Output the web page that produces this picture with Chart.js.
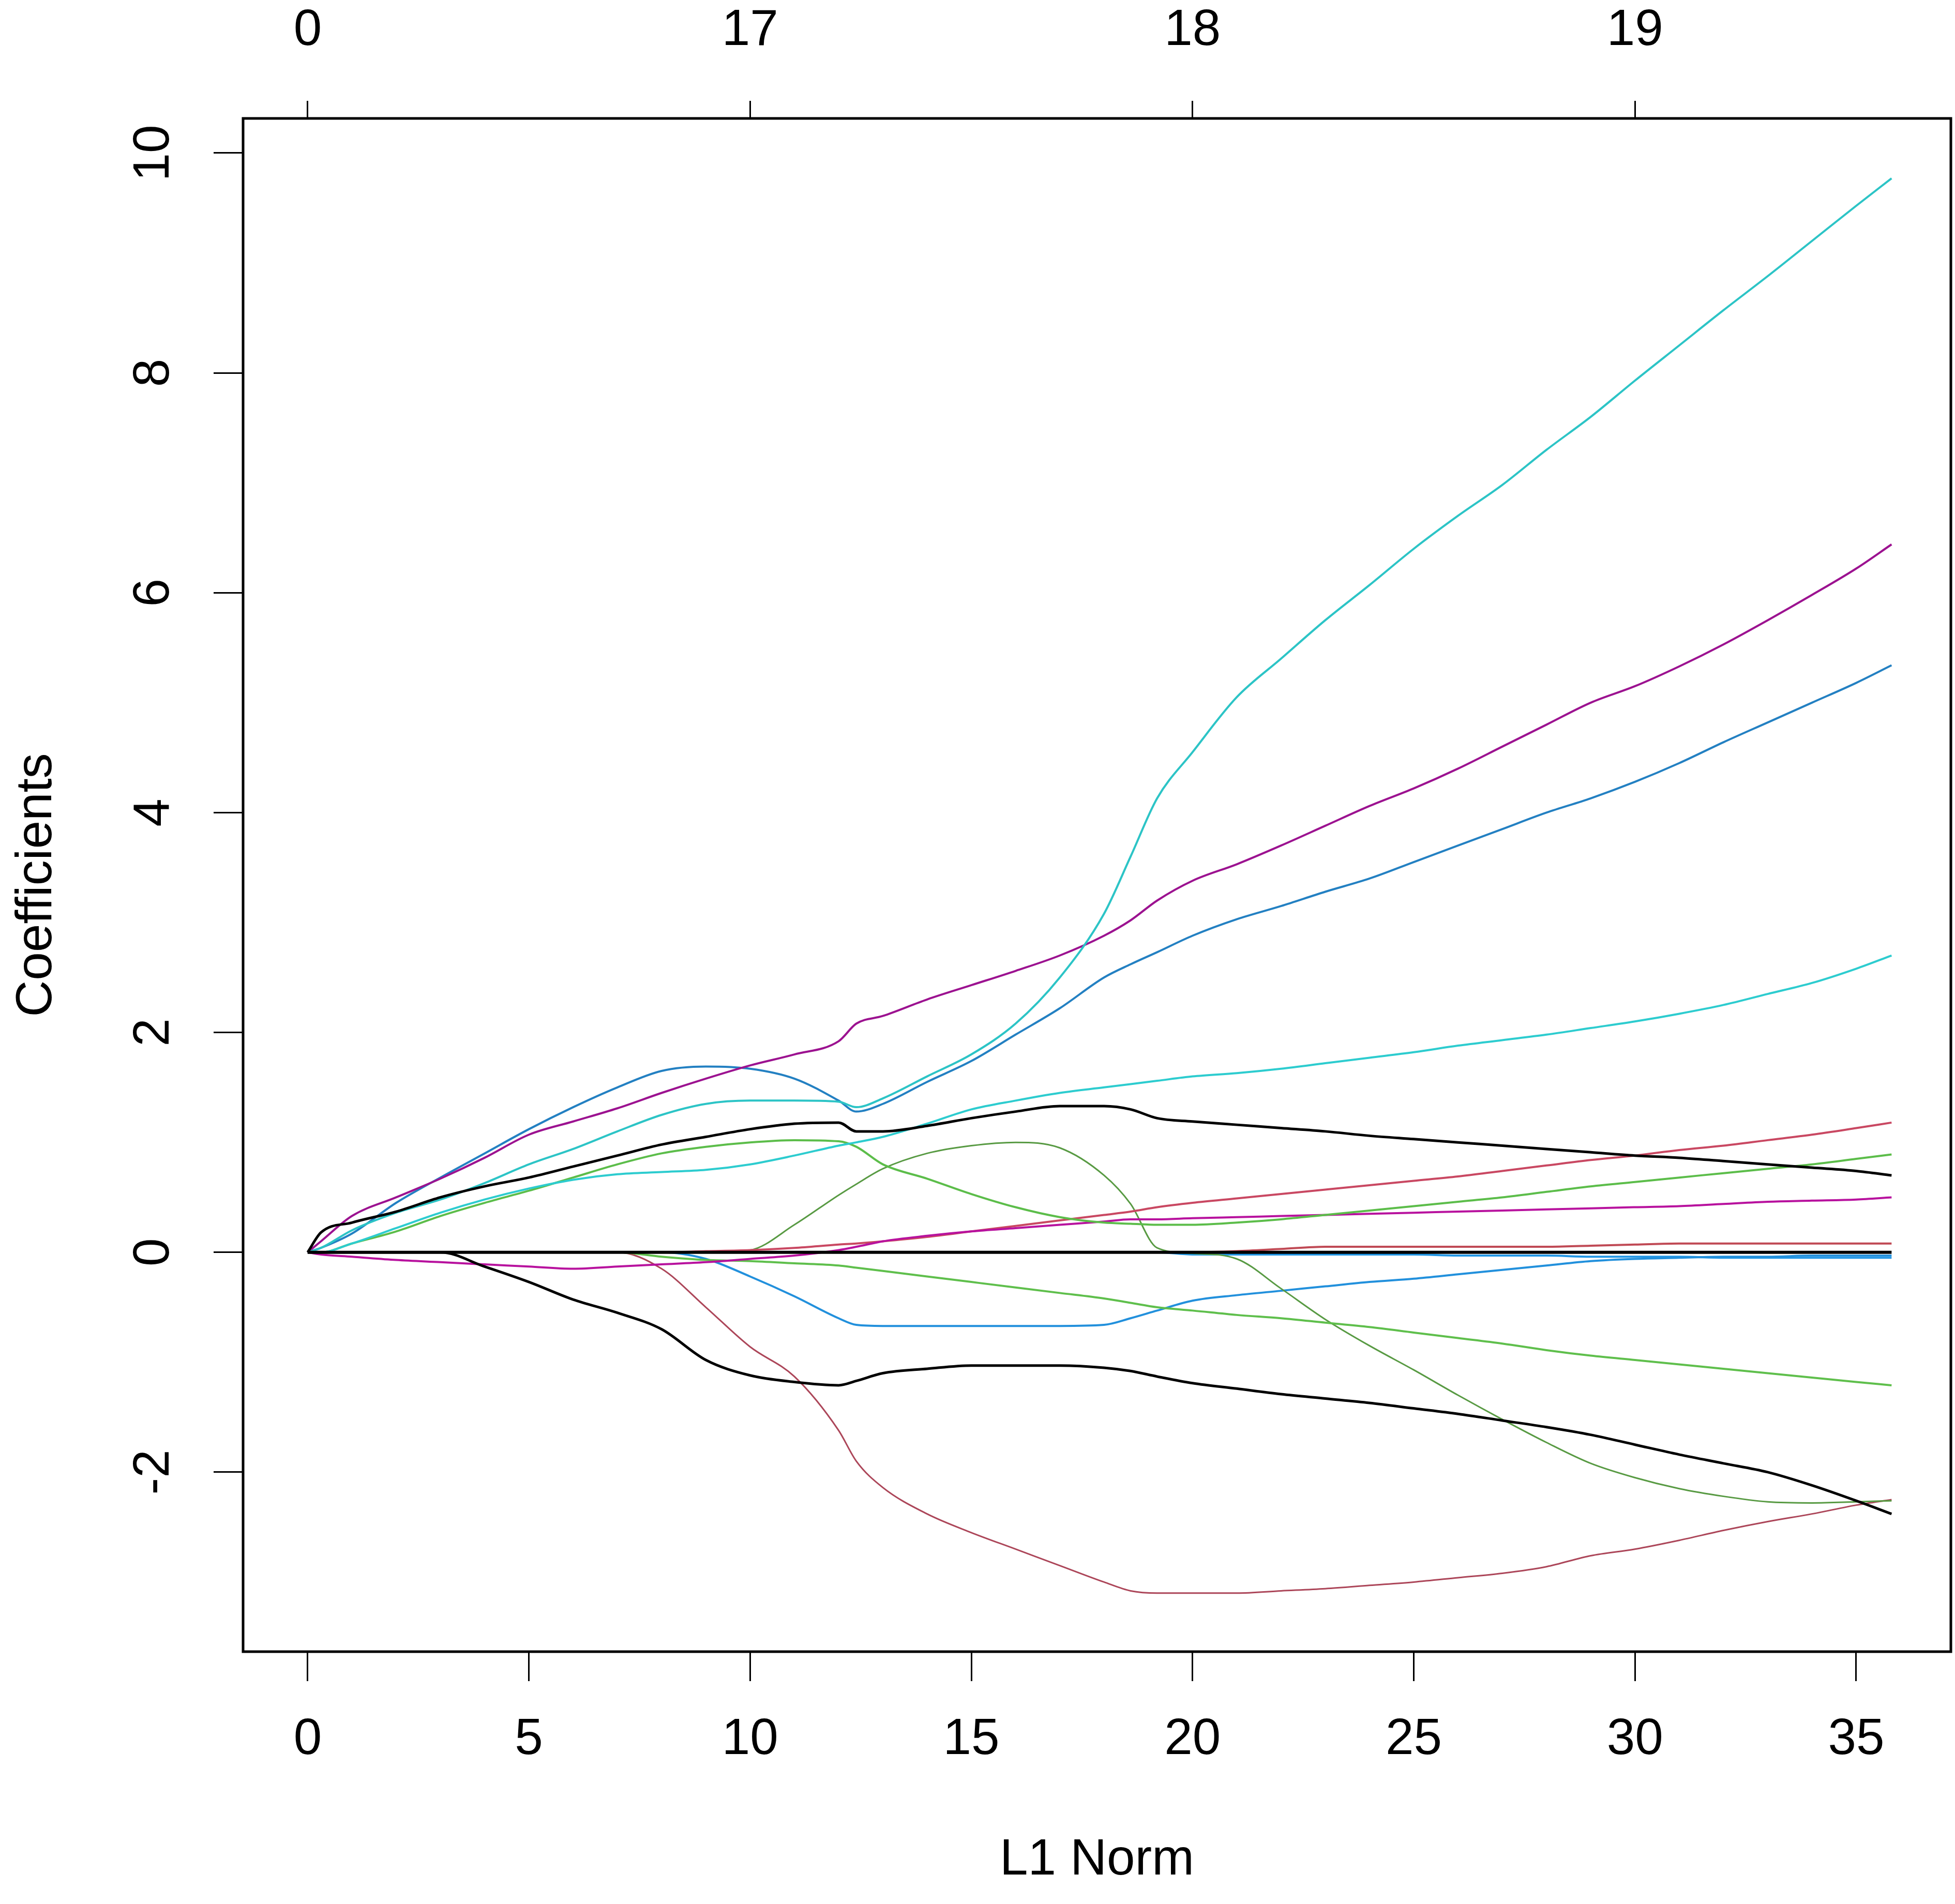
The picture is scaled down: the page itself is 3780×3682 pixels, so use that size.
<!DOCTYPE html>
<html lang="en">
<head>
    <meta charset="UTF-8">
    <title>Coefficient paths vs L1 Norm</title>
    <script src="https://cdn.jsdelivr.net/npm/chart.js@4"></script>
    <style>
        html, body { margin: 0; padding: 0; background: #fff; }
        #wrap { width: 3780px; height: 3682px; }
    </style>
</head>
<body>
<div id="wrap"><canvas id="chart" width="3780" height="3682"></canvas></div>

<script>
    // L1 norm grid shared by every coefficient path
    const l1Norm = [0, 0.3, 1, 2, 3, 4, 5, 6, 7, 8, 9, 10, 11, 12, 12.4, 13, 14, 15, 16, 17, 18, 18.6, 19.2, 20,
        21, 22, 23, 24, 25, 26, 27, 28, 29, 30, 31, 32, 33, 34, 35, 35.8];

    // coefficient paths
    const coefZero = [0, 0, 0, 0, 0, 0, 0, 0, 0, 0, 0, 0, 0, 0, 0, 0, 0, 0, 0, 0,
        0, 0, 0, 0, 0, 0, 0, 0, 0, 0, 0, 0, 0, 0, 0, 0, 0, 0, 0, 0];
    const coefCyanTop = [0, 0.04, 0.2, 0.36, 0.48, 0.63, 0.8, 0.94, 1.1, 1.25, 1.35, 1.38, 1.38, 1.37, 1.32, 1.4,
        1.6, 1.8, 2.08, 2.5, 3.08, 3.6, 4.13, 4.55, 5.05, 5.4, 5.75, 6.07, 6.4, 6.7, 6.98, 7.3, 7.6, 7.93, 8.25,
        8.57, 8.88, 9.2, 9.52, 9.77];
    const coefPurple = [0, 0.1, 0.33, 0.5, 0.67, 0.86, 1.07, 1.19, 1.31, 1.45, 1.58, 1.7, 1.8, 1.92, 2.08, 2.15,
        2.3, 2.43, 2.56, 2.7, 2.88, 3.02, 3.2, 3.38, 3.53, 3.7, 3.88, 4.06, 4.22, 4.4, 4.6, 4.8, 5.0, 5.15, 5.33,
        5.53, 5.75, 5.98, 6.22, 6.44];
    const coefBlue = [0, 0.04, 0.17, 0.45, 0.68, 0.9, 1.12, 1.32, 1.5, 1.65, 1.69, 1.67, 1.58, 1.38, 1.28, 1.35,
        1.55, 1.74, 1.98, 2.22, 2.5, 2.62, 2.73, 2.88, 3.03, 3.15, 3.28, 3.4, 3.55, 3.7, 3.85, 4.0, 4.13, 4.28,
        4.45, 4.64, 4.82, 5.0, 5.18, 5.34];
    const coefCyanLow = [0, 0, 0.08, 0.22, 0.36, 0.48, 0.58, 0.66, 0.71, 0.73, 0.75, 0.8, 0.88, 0.97, 1.0, 1.05,
        1.17, 1.3, 1.38, 1.45, 1.5, 1.53, 1.56, 1.6, 1.63, 1.67, 1.72, 1.77, 1.82, 1.88, 1.93, 1.98, 2.04, 2.1,
        2.17, 2.25, 2.35, 2.45, 2.58, 2.7];
    const coefBlackUp = [0, 0.18, 0.27, 0.37, 0.5, 0.6, 0.68, 0.78, 0.88, 0.98, 1.05, 1.12, 1.17, 1.18, 1.1, 1.1,
        1.15, 1.22, 1.28, 1.33, 1.33, 1.3, 1.22, 1.19, 1.16, 1.13, 1.1, 1.06, 1.03, 1.0, 0.97, 0.94, 0.91, 0.88,
        0.86, 0.83, 0.8, 0.77, 0.74, 0.7];
    const coefGreenArc = [0, 0, 0.08, 0.19, 0.33, 0.45, 0.56, 0.68, 0.8, 0.9, 0.96, 1.0, 1.02, 1.01, 0.96, 0.8,
        0.67, 0.53, 0.41, 0.32, 0.27, 0.26, 0.25, 0.25, 0.27, 0.3, 0.34, 0.38, 0.42, 0.46, 0.5, 0.55, 0.6, 0.64,
        0.68, 0.72, 0.76, 0.8, 0.85, 0.89];
    const coefMagenta = [0, -0.02, -0.04, -0.07, -0.09, -0.11, -0.13, -0.15, -0.13, -0.11, -0.09, -0.06, -0.03,
        0.02, 0.05, 0.1, 0.15, 0.19, 0.22, 0.25, 0.28, 0.3, 0.3, 0.31, 0.32, 0.33, 0.34, 0.35, 0.36, 0.37, 0.38,
        0.39, 0.4, 0.41, 0.42, 0.44, 0.46, 0.47, 0.48, 0.5];
    const coefCrimson = [0, 0, 0, 0, 0, 0, 0, 0, 0, 0, 0.01, 0.02, 0.04, 0.07, 0.08, 0.1, 0.14, 0.19, 0.24, 0.29,
        0.34, 0.37, 0.41, 0.45, 0.49, 0.53, 0.57, 0.61, 0.65, 0.69, 0.74, 0.79, 0.84, 0.88, 0.93, 0.97, 1.02,
        1.07, 1.13, 1.18];
    const coefRedTiny = [0, 0, 0, 0, 0, 0, 0, 0, 0, 0, 0, 0, 0, 0, 0, 0, 0, 0, 0, 0, 0, 0, 0, 0,
        0.01, 0.03, 0.05, 0.05, 0.05, 0.05, 0.05, 0.05, 0.06, 0.07, 0.08, 0.08, 0.08, 0.08, 0.08, 0.08];
    const coefGreenNeg = [0, 0, 0, 0, 0, 0, 0, 0, 0, -0.04, -0.07, -0.08, -0.1, -0.12, -0.14, -0.17, -0.22,
        -0.27, -0.32, -0.37, -0.42, -0.46, -0.5, -0.53, -0.57, -0.6, -0.64, -0.68, -0.73, -0.78, -0.83, -0.89,
        -0.94, -0.98, -1.02, -1.06, -1.1, -1.14, -1.18, -1.21];
    const coefOlive = [0, 0, 0, 0, 0, 0, 0, 0, 0, 0, 0, 0.02, 0.25, 0.52, 0.62, 0.76, 0.9, 0.97, 1.0, 0.95, 0.7,
        0.44, 0.04, -0.01, -0.06, -0.33, -0.61, -0.85, -1.07, -1.3, -1.52, -1.73, -1.92, -2.05, -2.15, -2.22,
        -2.27, -2.28, -2.27, -2.26];
    const coefBlueNeg = [0, 0, 0, 0, 0, 0, 0, 0, 0, 0, -0.06, -0.22, -0.4, -0.6, -0.66, -0.67, -0.67, -0.67,
        -0.67, -0.67, -0.66, -0.6, -0.53, -0.44, -0.39, -0.35, -0.31, -0.27, -0.24, -0.2, -0.16, -0.12, -0.08,
        -0.06, -0.05, -0.04, -0.04, -0.03, -0.03, -0.03];
    const coefBlackNeg = [0, 0, 0, 0, 0, -0.13, -0.27, -0.43, -0.55, -0.7, -0.98, -1.12, -1.18, -1.21, -1.17,
        -1.1, -1.06, -1.03, -1.03, -1.03, -1.05, -1.08, -1.13, -1.19, -1.24, -1.29, -1.33, -1.37, -1.42, -1.47,
        -1.53, -1.59, -1.66, -1.75, -1.84, -1.92, -2.0, -2.12, -2.26, -2.38];
    const coefCrimsonDrop = [0, 0, 0, 0, 0, 0, 0, 0, 0, -0.15, -0.5, -0.86, -1.13, -1.62, -1.9, -2.14, -2.38,
        -2.55, -2.7, -2.85, -3.0, -3.08, -3.1, -3.1, -3.1, -3.08, -3.06, -3.03, -3.0, -2.96, -2.92, -2.86, -2.76,
        -2.7, -2.62, -2.53, -2.45, -2.38, -2.3, -2.25];
    const coefBlueTiny = [0, 0, 0, 0, 0, 0, 0, 0, 0, 0, 0, 0, 0, 0, 0, 0, 0, 0, 0, 0, 0, 0, 0,
        -0.02, -0.02, -0.02, -0.02, -0.02, -0.02, -0.03, -0.03, -0.03, -0.04, -0.04, -0.04, -0.05, -0.05, -0.05,
        -0.05, -0.05];

    // axis ticks
    const bottomTicks = [0, 5, 10, 15, 20, 25, 30, 35];
    const topTicks = [0, 10, 20, 30];
    const topTickLabels = ['0', '17', '18', '19'];
    const yTicks = [-2, 0, 2, 4, 6, 8, 10];

    const FONT = "'Liberation Sans', Arial, sans-serif";
    const font = { family: FONT, size: 98 };

    // first entry is drawn on top
    const paths = [
        { data: coefZero, color: '#000000', width: 6 },
        { data: coefBlackUp, color: '#000000', width: 5 },
        { data: coefBlackNeg, color: '#000000', width: 5 },
        { data: coefCyanTop, color: '#2cc4c6', width: 4 },
        { data: coefPurple, color: '#9c1290', width: 4 },
        { data: coefBlue, color: '#2380c2', width: 4 },
        { data: coefCyanLow, color: '#2dcccf', width: 4 },
        { data: coefGreenArc, color: '#5cbd4a', width: 4 },
        { data: coefMagenta, color: '#b8129e', width: 4 },
        { data: coefCrimson, color: '#c94862', width: 4 },
        { data: coefRedTiny, color: '#c04a55', width: 4 },
        { data: coefGreenNeg, color: '#5fbf4c', width: 4 },
        { data: coefOlive, color: '#589a43', width: 3 },
        { data: coefBlueNeg, color: '#2290dc', width: 4 },
        { data: coefCrimsonDrop, color: '#ac4659', width: 3 },
        { data: coefBlueTiny, color: '#2297e6', width: 4 }
    ];

    const plotBox = {
        id: 'plotBox',
        afterDraw(chart) {
            const { ctx, chartArea: a } = chart;
            ctx.save();
            ctx.strokeStyle = '#000';
            ctx.lineWidth = 5;
            ctx.strokeRect(a.left, a.top, a.right - a.left, a.bottom - a.top);
            ctx.restore();
        }
    };

    const tickGrid = len => ({
        drawOnChartArea: false, drawTicks: true, tickLength: len, color: '#000', lineWidth: 3
    });

    new Chart(document.getElementById('chart'), {
        type: 'line',
        data: {
            datasets: paths.map(p => ({
                data: l1Norm.map((x, i) => ({ x: x, y: p.data[i] })),
                borderColor: p.color,
                borderWidth: p.width,
                pointRadius: 0,
                fill: false,
                cubicInterpolationMode: 'monotone'
            }))
        },
        options: {
            responsive: false,
            animation: false,
            devicePixelRatio: 1,
            events: [],
            layout: { padding: { left: 0, top: 0, bottom: 0, right: 8 } },
            plugins: { legend: { display: false }, tooltip: { enabled: false } },
            scales: {
                x: {
                    type: 'linear', position: 'bottom', min: -1.46, max: 37.14, bounds: 'data',
                    afterBuildTicks: s => { s.ticks = bottomTicks.map(v => ({ value: v })); },
                    afterFit: s => { s.height = 488; },
                    grid: tickGrid(57),
                    border: { display: false },
                    ticks: { font: font, color: '#000', padding: 55, maxRotation: 0, autoSkip: false },
                    title: { display: true, text: 'L1 Norm', font: font, color: '#000', padding: { top: 0, bottom: 25 } }
                },
                x2: {
                    type: 'linear', position: 'top', min: -1.46, max: 37.14, bounds: 'data',
                    afterBuildTicks: s => { s.ticks = topTicks.map(v => ({ value: v })); },
                    afterFit: s => { s.height = 229; },
                    grid: tickGrid(34),
                    border: { display: false },
                    ticks: {
                        font: font, color: '#000', padding: 76, maxRotation: 0, autoSkip: false,
                        callback: v => topTickLabels[topTicks.indexOf(v)]
                    }
                },
                y: {
                    type: 'linear', position: 'left', min: -3.633, max: 10.315, bounds: 'data',
                    afterBuildTicks: s => { s.ticks = yTicks.map(v => ({ value: v })); },
                    afterFit: s => { s.width = 470; },
                    grid: tickGrid(57),
                    border: { display: false },
                    ticks: {
                        font: font, color: '#000', padding: 60, autoSkip: false,
                        minRotation: 90, maxRotation: 90, crossAlign: 'center'
                    },
                    title: { display: true, text: 'Coefficients', font: font, color: '#000', padding: { top: 13, bottom: 0 } }
                }
            }
        },
        plugins: [plotBox]
    });
</script>
</body>
</html>
